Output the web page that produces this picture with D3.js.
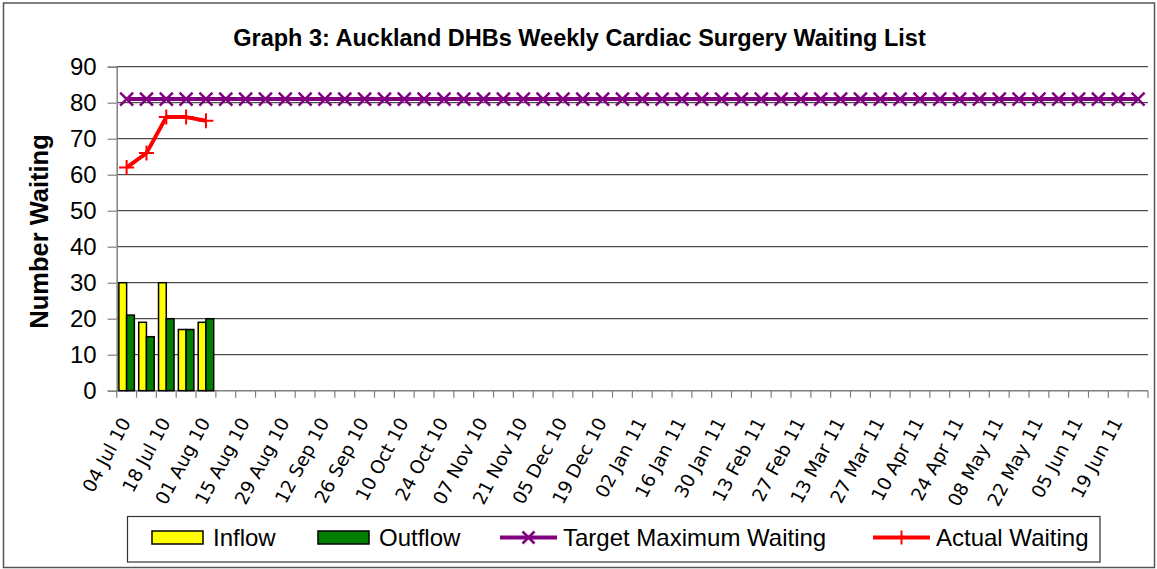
<!DOCTYPE html>
<html lang="en">
<head>
  <meta charset="utf-8">
  <title>Graph 3: Auckland DHBs Weekly Cardiac Surgery Waiting List</title>
  <script src="https://cdn.jsdelivr.net/npm/d3@7/dist/d3.min.js"></script>
  <style>
    html, body { margin: 0; padding: 0; background: #fff; }
    svg { display: block; }
  </style>
</head>
<body>
  <div id="chart"></div>

  <script>
    /* ───────── data ───────── */
    const weeks = [
      '04 Jul 10','11 Jul 10','18 Jul 10','25 Jul 10','01 Aug 10','08 Aug 10','15 Aug 10','22 Aug 10',
      '29 Aug 10','05 Sep 10','12 Sep 10','19 Sep 10','26 Sep 10','03 Oct 10','10 Oct 10','17 Oct 10',
      '24 Oct 10','31 Oct 10','07 Nov 10','14 Nov 10','21 Nov 10','28 Nov 10','05 Dec 10','12 Dec 10',
      '19 Dec 10','26 Dec 10','02 Jan 11','09 Jan 11','16 Jan 11','23 Jan 11','30 Jan 11','06 Feb 11',
      '13 Feb 11','20 Feb 11','27 Feb 11','06 Mar 11','13 Mar 11','20 Mar 11','27 Mar 11','03 Apr 11',
      '10 Apr 11','17 Apr 11','24 Apr 11','01 May 11','08 May 11','15 May 11','22 May 11','29 May 11',
      '05 Jun 11','12 Jun 11','19 Jun 11','26 Jun 11'
    ];
    // every second week carries a label
    const tickLabels = [
      '04 Jul 10','18 Jul 10','01 Aug 10','15 Aug 10','29 Aug 10','12 Sep 10','26 Sep 10','10 Oct 10',
      '24 Oct 10','07 Nov 10','21 Nov 10','05 Dec 10','19 Dec 10','02 Jan 11','16 Jan 11','30 Jan 11',
      '13 Feb 11','27 Feb 11','13 Mar 11','27 Mar 11','10 Apr 11','24 Apr 11','08 May 11','22 May 11',
      '05 Jun 11','19 Jun 11'
    ];
    const yTicks = [0, 10, 20, 30, 40, 50, 60, 70, 80, 90];

    const inflow  = [30, 19, 30, 17, 19];
    const outflow = [21, 15, 20, 17, 20];
    const actualWaiting = [62, 66, 76, 76, 75];
    const targetWaiting = [
      81,81,81,81,81,81,81,81,81,81,81,81,81,81,81,81,81,81,81,81,81,81,81,81,81,81,
      81,81,81,81,81,81,81,81,81,81,81,81,81,81,81,81,81,81,81,81,81,81,81,81,81,81
    ];

    /* ───────── setup ───────── */
    const W = 1157, H = 569;
    const plot = { left: 116.7, right: 1148, top: 66.7, bottom: 390.7 };

    const svg = d3.select('#chart').append('svg')
      .attr('width', W).attr('height', H)
      .attr('font-family', 'Liberation Sans, Arial, sans-serif');

    // outer frame
    svg.append('rect')
      .attr('x', 3.5).attr('y', 3).attr('width', 1151).attr('height', 564.5)
      .attr('fill', '#fff').attr('stroke', '#555').attr('stroke-width', 1.5);

    const x = d3.scaleBand().domain(weeks).range([plot.left, plot.right]).padding(0);
    const y = d3.scaleLinear().domain([0, 90]).range([plot.bottom, plot.top]);
    const sub = d3.scaleBand().domain(['in', 'out'])
      .range([0, x.bandwidth()]).paddingOuter(0.28).paddingInner(0);

    const cx = d => x(d) + x.bandwidth() / 2;

    /* title */
    svg.append('text')
      .attr('x', 579.5).attr('y', 45.5)
      .attr('text-anchor', 'middle')
      .attr('font-weight', 'bold').attr('font-size', 23.5)
      .text('Graph 3: Auckland DHBs Weekly Cardiac Surgery Waiting List');

    /* gridlines */
    svg.append('g')
      .selectAll('line')
      .data(yTicks.filter(v => v > 0))
      .join('line')
        .attr('x1', plot.left).attr('x2', plot.right)
        .attr('y1', d => y(d)).attr('y2', d => y(d))
        .attr('stroke', '#222').attr('stroke-width', 1);

    /* y axis */
    const yAxis = svg.append('g')
      .attr('transform', `translate(${plot.left},0)`)
      .call(d3.axisLeft(y).tickValues(yTicks).tickSize(9).tickPadding(11));
    yAxis.select('.domain').attr('stroke', '#808080').attr('stroke-width', 1.5);
    yAxis.selectAll('.tick line').attr('stroke', '#808080').attr('stroke-width', 1.2);
    yAxis.selectAll('text')
      .attr('font-family', 'Liberation Sans, Arial, sans-serif')
      .attr('font-size', 24).attr('fill', '#000');

    svg.append('text')
      .attr('transform', 'translate(48,231.5) rotate(-90)')
      .attr('text-anchor', 'middle')
      .attr('font-weight', 'bold').attr('font-size', 25.5)
      .text('Number Waiting');

    /* x axis: ticks at band edges, labels every second week */
    const edges = weeks.map(d => x(d)).concat([plot.right]);
    const xg = svg.append('g');
    xg.append('line')
      .attr('x1', plot.left).attr('x2', plot.right)
      .attr('y1', plot.bottom).attr('y2', plot.bottom)
      .attr('stroke', '#808080').attr('stroke-width', 1.5);
    xg.selectAll('line.tk')
      .data(edges)
      .join('line').attr('class', 'tk')
        .attr('x1', d => d).attr('x2', d => d)
        .attr('y1', plot.bottom).attr('y2', plot.bottom + 7)
        .attr('stroke', '#808080').attr('stroke-width', 1.2);
    xg.selectAll('text')
      .data(tickLabels)
      .join('text')
        .attr('transform', d => `translate(${cx(d) - 1},419) rotate(-62)`)
        .attr('text-anchor', 'end')
        .attr('dy', '0.35em')
        .attr('font-family', 'DejaVu Sans, Verdana, sans-serif')
        .attr('font-size', 18.5)
        .text(d => d);

    /* bars */
    const bars = svg.append('g');
    bars.selectAll('rect.in')
      .data(inflow)
      .join('rect').attr('class', 'in')
        .attr('x', (d, i) => x(weeks[i]) + sub('in'))
        .attr('y', d => y(d))
        .attr('width', sub.bandwidth())
        .attr('height', d => y(0) - y(d))
        .attr('fill', '#ffff00').attr('stroke', '#000').attr('stroke-width', 1.5);
    bars.selectAll('rect.out')
      .data(outflow)
      .join('rect').attr('class', 'out')
        .attr('x', (d, i) => x(weeks[i]) + sub('out'))
        .attr('y', d => y(d))
        .attr('width', sub.bandwidth())
        .attr('height', d => y(0) - y(d))
        .attr('fill', '#008000').attr('stroke', '#000').attr('stroke-width', 1.5);

    /* target line with x markers */
    const line = d3.line().x(d => cx(d[0])).y(d => y(d[1]));
    const tgt = targetWaiting.map((v, i) => [weeks[i], v]);
    svg.append('path')
      .datum(tgt)
      .attr('d', line)
      .attr('fill', 'none').attr('stroke', '#800080').attr('stroke-width', 4);
    const xm = 6.5;
    svg.append('g')
      .selectAll('path')
      .data(tgt)
      .join('path')
        .attr('d', d => {
          const px = cx(d[0]), py = y(d[1]);
          return `M${px - xm},${py - xm}L${px + xm},${py + xm}M${px - xm},${py + xm}L${px + xm},${py - xm}`;
        })
        .attr('stroke', '#800080').attr('stroke-width', 2.5).attr('fill', 'none');

    /* actual waiting line with + markers */
    const act = actualWaiting.map((v, i) => [weeks[i], v]);
    svg.append('path')
      .datum(act)
      .attr('d', line)
      .attr('fill', 'none').attr('stroke', '#ff0000').attr('stroke-width', 4)
      .attr('stroke-linejoin', 'round');
    const pm = 7.5;
    svg.append('g')
      .selectAll('path')
      .data(act)
      .join('path')
        .attr('d', d => {
          const px = cx(d[0]), py = y(d[1]);
          return `M${px - pm},${py}L${px + pm},${py}M${px},${py - pm}L${px},${py + pm}`;
        })
        .attr('stroke', '#ff0000').attr('stroke-width', 2).attr('fill', 'none');

    /* legend */
    const lg = svg.append('g');
    lg.append('rect')
      .attr('x', 127.5).attr('y', 516.5).attr('width', 972.5).attr('height', 45.5)
      .attr('fill', '#fff').attr('stroke', '#333').attr('stroke-width', 1.2);

    const legendItems = [
      { name: 'Inflow',                 type: 'bar',  color: '#ffff00', x: 152 },
      { name: 'Outflow',                type: 'bar',  color: '#008000', x: 318 },
      { name: 'Target Maximum Waiting', type: 'x',    color: '#800080', x: 500 },
      { name: 'Actual Waiting',         type: 'plus', color: '#ff0000', x: 873 }
    ];
    const item = lg.selectAll('g.item')
      .data(legendItems)
      .join('g').attr('class', 'item')
        .attr('transform', d => `translate(${d.x},537.5)`);

    item.filter(d => d.type === 'bar').append('rect')
      .attr('x', 0).attr('y', -6.5).attr('width', 51).attr('height', 13)
      .attr('fill', d => d.color).attr('stroke', '#000').attr('stroke-width', 1.5);

    item.filter(d => d.type !== 'bar').append('line')
      .attr('x1', 0).attr('x2', 57).attr('y1', 0).attr('y2', 0)
      .attr('stroke', d => d.color).attr('stroke-width', 4);

    item.filter(d => d.type === 'x').append('path')
      .attr('d', `M${28.5 - 6},-6L${28.5 + 6},6M${28.5 - 6},6L${28.5 + 6},-6`)
      .attr('stroke', d => d.color).attr('stroke-width', 2.5);

    item.filter(d => d.type === 'plus').append('path')
      .attr('d', 'M28.5,-7L28.5,7')
      .attr('stroke', d => d.color).attr('stroke-width', 2);

    item.append('text')
      .attr('x', d => d.type === 'bar' ? 61 : 63)
      .attr('y', 8.5)
      .attr('font-size', 24)
      .text(d => d.name);
  </script>
</body>
</html>
